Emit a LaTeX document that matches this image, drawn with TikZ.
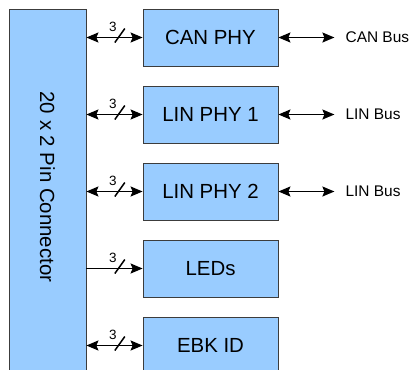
\documentclass[tikz,border=0pt]{standalone}
\usepackage{fontspec}
\setmainfont{Liberation Sans}
\usetikzlibrary{positioning,calc,arrows.meta}
\definecolor{blkfill}{RGB}{153,204,255}
\definecolor{blkline}{RGB}{60,60,60}

\begin{document}
\begin{tikzpicture}[
    x=1bp, y=-1bp,
    node distance=19.2bp,
    blk/.style={rectangle, draw=blkline, line width=0.8bp, fill=blkfill, minimum width=135bp, minimum height=57bp, inner sep=0pt, font=\fontsize{20.5}{24}\selectfont},
    pinbox/.style={rectangle, draw=blkline, line width=0.8bp, fill=blkfill, minimum width=77bp, minimum height=366bp, inner sep=0pt},
    bidir/.style={{Stealth[length=12bp,width=10bp,inset=2bp]}-{Stealth[length=12bp,width=10bp,inset=2bp]}, line width=1.5bp},
    onedir/.style={-{Stealth[length=12bp,width=10bp,inset=2bp]}, line width=1.5bp},
    slash/.style={line width=1.5bp},
    wlabel/.style={font=\fontsize{13.5}{15}\selectfont, inner sep=0pt},
    buslabel/.style={inner xsep=11bp, inner ysep=0pt, font=\fontsize{15.5}{18}\selectfont}
]
\clip (0,0) rectangle (411,370);
% Pin connector (left)
\node[pinbox] (pins) at (47.5,192) {};
\node[rotate=-90, font=\fontsize{20.5}{24}\selectfont] (pinstext) at (47.5,187) {20 x 2 Pin Connector};
% Blocks
\node[blk] (can) at (210.5,37.5) {CAN PHY};
\node[blk, below=of can] (linA) {LIN PHY 1};
\node[blk, below=of linA] (linB) {LIN PHY 2};
\node[blk, below=of linB] (leds) {LEDs};
\node[blk, below=of leds] (ebk) {EBK ID};
% Bus labels (right)
\node[buslabel, right=56bp of can] (canbus) {CAN Bus};
\node[buslabel, right=56bp of linA] (linbusA) {LIN Bus};
\node[buslabel, right=56bp of linB] (linbusB) {LIN Bus};
% Arrows from connector
\foreach \n in {can,linA,linB,ebk} {
  \draw[bidir] (pins.east |- \n.west) -- coordinate[pos=0.57] (w\n) (\n.west);
}
\draw[onedir] (pins.east |- leds.west) -- coordinate[pos=0.57] (wleds) (leds.west);
% Width marks
\foreach \n in {can,linA,linB,leds,ebk} {
  \draw[slash] ($(w\n)+(-3.6,5)$) -- ($(w\n)+(6.4,-9)$);
  \node[wlabel] (n\n) at ($(w\n)+(-5.6,-10.3)$) {3};
}
% Arrows to buses
\draw[bidir] (can.east) -- (canbus.west);
\draw[bidir] (linA.east) -- (linbusA.west);
\draw[bidir] (linB.east) -- (linbusB.west);
\end{tikzpicture}
\end{document}
